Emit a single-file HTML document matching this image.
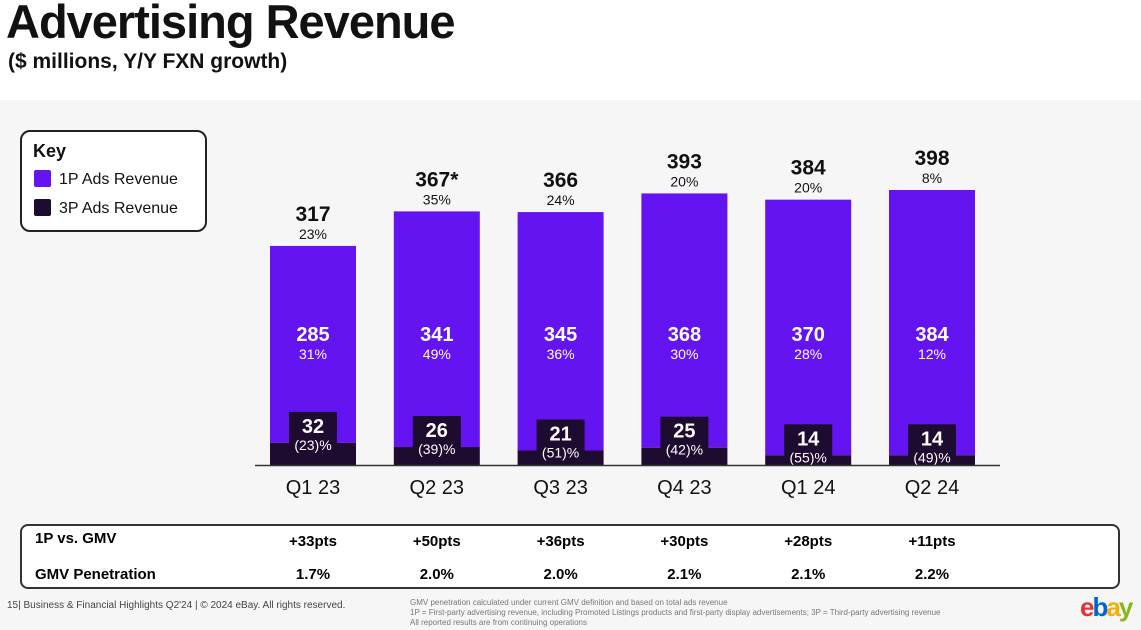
<!DOCTYPE html>
<html><head><meta charset="utf-8"><style>
body{margin:0;width:1141px;height:630px;overflow:hidden;background:#f6f6f6;font-family:"Liberation Sans",sans-serif;color:#111;position:relative}
.top{position:absolute;left:0;top:0;width:1141px;height:100px;background:#fff}
h1{position:absolute;left:6px;top:-6px;margin:0;font-size:47px;font-weight:bold;letter-spacing:-1px}
.sub{position:absolute;left:8px;top:50px;font-size:21px;font-weight:bold}
.key{position:absolute;left:20px;top:130px;width:183px;height:98px;border:2px solid #222;border-radius:10px;background:#fff}
.key .t{position:absolute;left:11px;top:9px;font-size:18px;font-weight:bold}
.ki{position:absolute;left:12px;font-size:16px}
.ki span{display:inline-block;width:17px;height:17px;vertical-align:-3px;margin-right:8px;border-radius:2px}
.tbl{position:absolute;left:20px;top:524px;width:1096px;height:61px;border:2px solid #333;border-radius:8px;background:#fff}
.foot{position:absolute;font-size:10px;color:#444}
.note{position:absolute;left:410px;top:598px;font-size:8px;color:#777;line-height:10px}
</style></head><body>
<div class="top"></div>
<h1>Advertising Revenue</h1>
<div class="sub">($ millions, Y/Y FXN growth)</div>
<div class="key">
<div class="t">Key</div>
<div class="ki" style="top:38px"><span style="background:#6414f0"></span>1P Ads Revenue</div>
<div class="ki" style="top:67px"><span style="background:#1e0b30"></span>3P Ads Revenue</div>
</div>
<svg id="chart" width="1141" height="630" style="position:absolute;left:0;top:0"></svg>
<div class="tbl"></div>
<div class="foot" style="left:7px;top:600px">15| Business &amp; Financial Highlights Q2'24 | © 2024 eBay. All rights reserved.</div>
<div class="note">GMV penetration calculated under current GMV definition and based on total ads revenue<br>1P = First-party advertising revenue, including Promoted Listings products and first-party display advertisements; 3P = Third-party advertising revenue<br>All reported results are from continuing operations</div>
<div style="position:absolute;left:1080px;top:592px;font-size:26px;font-weight:bold;letter-spacing:-2px"><span style="color:#e53238">e</span><span style="color:#0064d2">b</span><span style="color:#f5af02">a</span><span style="color:#86b817">y</span></div>
<script>
const categories=["Q1 23","Q2 23","Q3 23","Q4 23","Q1 24","Q2 24"];
const totals=[317,367,366,393,384,398];
const totalLabels=["317","367*","366","393","384","398"];
const totalGrowth=["23%","35%","24%","20%","20%","8%"];
const ads1p=[285,341,345,368,370,384];
const growth1p=["31%","49%","36%","30%","28%","12%"];
const ads3p=[32,26,21,25,14,14];
const growth3p=["(23)%","(39)%","(51)%","(42)%","(55)%","(49)%"];
const vsGmv=["+33pts","+50pts","+36pts","+30pts","+28pts","+11pts"];
const penetration=["1.7%","2.0%","2.0%","2.1%","2.1%","2.2%"];
const NS="http://www.w3.org/2000/svg";
const svg=document.getElementById('chart');
const base=465,scale=0.691,x0=270,step=123.8,bw=86;
const y=v=>base-v*scale;
const xc=i=>x0+i*step+bw/2;
function mk(tag,attrs,txt){const e=document.createElementNS(NS,tag);for(const k in attrs)e.setAttribute(k,attrs[k]);if(txt!=null)e.textContent=txt;svg.appendChild(e);return e;}
function txt(x,yy,s,size,bold,fill){return mk('text',{x:x,y:yy,'text-anchor':'middle','font-size':size,'font-weight':bold?'bold':'normal',fill:fill,'font-family':'Liberation Sans, sans-serif'},s);}
categories.forEach((c,i)=>{
 const x=x0+i*step, cx=xc(i), tot=ads1p[i]+ads3p[i];
 let r=mk('rect',{x:x,y:y(tot),width:bw,height:ads1p[i]*scale,fill:'#6414f0'});
 
 r=mk('rect',{x:x,y:y(ads3p[i]),width:bw,height:ads3p[i]*scale,fill:'#1e0b30'});
 
 const bt=y(ads3p[i])-31;
 mk('rect',{x:cx-24,y:bt,width:48,height:base-bt,fill:'#1e0b30'});
 let t=txt(cx,bt+21,ads3p[i],20,true,'#fff');
 txt(cx,bt+38,growth3p[i],14,false,'#fff');
 t=txt(cx,341,ads1p[i],20,true,'#fff');
 txt(cx,359,growth1p[i],14,false,'#fff');
 const ty=y(totals[i]);
 t=txt(cx,ty-25,totalLabels[i],21,true,'#111');
 txt(cx,ty-7,totalGrowth[i],14,false,'#111');
 t=txt(cx,494,c,20,false,'#111');
});
mk('line',{x1:255,x2:1000,y1:base+0.5,y2:base+0.5,stroke:'#333','stroke-width':1.5});
</script>
<svg width="1141" height="630" style="position:absolute;left:0;top:0" id="tbl"></svg>
<script>
(function(){
const t2=document.getElementById('tbl');
function tx(x,yy,s,anchor){const e=document.createElementNS(NS,'text');e.setAttribute('x',x);e.setAttribute('y',yy);e.setAttribute('text-anchor',anchor);e.setAttribute('font-size',15);e.setAttribute('font-weight','bold');e.setAttribute('font-family','Liberation Sans, sans-serif');e.textContent=s;t2.appendChild(e);return e;}
let e=tx(35,543,'1P vs. GMV','start');
e=tx(35,579,'GMV Penetration','start');
categories.forEach((c,i)=>{
 e=tx(xc(i),546,vsGmv[i],'middle');
 e=tx(xc(i),579,penetration[i],'middle');
});
})();
</script>
</body></html>
